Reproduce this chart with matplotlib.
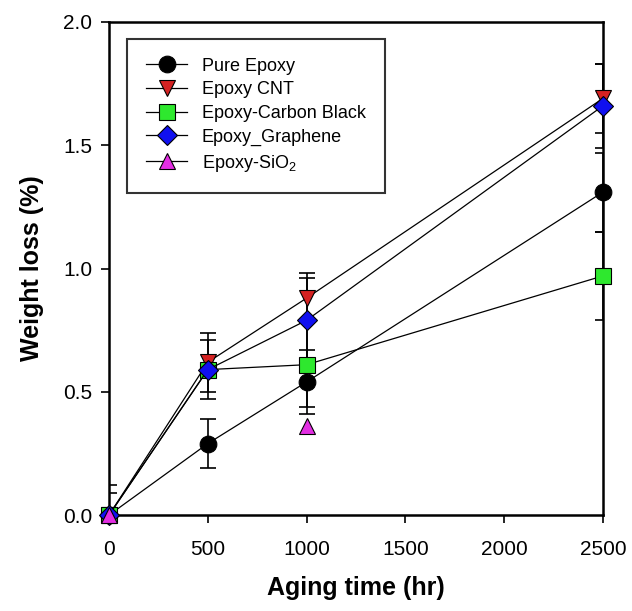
import matplotlib
matplotlib.use("Agg")
import matplotlib.pyplot as plt
from matplotlib.lines import Line2D

plt.rcParams['font.family'] = ['Liberation Sans', 'DejaVu Sans']

# Data
time_main = [0, 500, 1000, 2500]
pure_epoxy = [0.0, 0.29, 0.54, 1.31]
pure_epoxy_err = [0.12, 0.10, 0.13, 0.16]
epoxy_cnt = [0.0, 0.62, 0.88, 1.69]
epoxy_cnt_err = [0.09, 0.12, 0.10, 0.14]
epoxy_cb = [0.0, 0.59, 0.61, 0.97]
epoxy_cb_err = [0.0, 0.0, 0.17, 0.18]
epoxy_gr = [0.0, 0.59, 0.79, 1.66]
epoxy_gr_err = [0.0, 0.12, 0.17, 0.17]
time_sio2 = [0, 1000]
epoxy_sio2 = [0.0, 0.36]

labels = ["Pure Epoxy", "Epoxy CNT", "Epoxy-Carbon Black", "Epoxy_Graphene",
          "Epoxy-SiO$_\\mathregular{2}$"]
xticks = [0, 500, 1000, 1500, 2000, 2500]
yticks = [0.0, 0.5, 1.0, 1.5, 2.0]

colors = ['black', '#d42222', '#2ee82e', '#1010f0', '#e22ee2']
markers = ['o', 'v', 's', 'D', '^']
sizes = [12, 12, 11, 10, 12]

fig = plt.figure(figsize=(6.32, 6.11), dpi=100)
ax = fig.add_axes([0.1725, 0.157, 0.7815, 0.807])

series = [(time_main, pure_epoxy, pure_epoxy_err),
          (time_main, epoxy_cnt, epoxy_cnt_err),
          (time_main, epoxy_cb, epoxy_cb_err),
          (time_main, epoxy_gr, epoxy_gr_err)]

for i, (x, y, e) in enumerate(series):
    ax.errorbar(x, y, yerr=e, fmt='none', ecolor='black', elinewidth=1.2,
                capsize=5.5, capthick=1.2, zorder=2)
    ln, = ax.plot(x, y, color='black', lw=0.9, marker=markers[i], mfc=colors[i],
                  mec='black', mew=0.8, ms=sizes[i], zorder=3 + i)
    ln.set_clip_on(False)
ln, = ax.plot(time_sio2, epoxy_sio2, ls='none', marker=markers[4], mfc=colors[4],
              mec='black', mew=0.8, ms=sizes[4], zorder=8)
ln.set_clip_on(False)

ax.set_xlim(0, 2500)
ax.set_ylim(0, 2.0)
ax.set_xticks(xticks)
ax.set_yticks(yticks)
ax.set_yticklabels([f"{v:.1f}" for v in yticks])
ax.tick_params(axis='both', direction='out', length=6, width=1.2, labelsize=15,
               top=False, right=False)
ax.tick_params(axis='x', pad=12)
ax.tick_params(axis='y', pad=6)
for s in ax.spines.values():
    s.set_linewidth(1.8)

ax.set_xlabel("Aging time (hr)", fontsize=18, fontweight='bold', labelpad=12)
ax.set_ylabel("Weight loss (%)", fontsize=18, fontweight='bold', labelpad=14)

handles = [Line2D([], [], color='black', lw=0.9, marker=markers[i], mfc=colors[i],
                  mec='black', mew=0.8, ms=sizes[i]) for i in range(5)]
leg = ax.legend(handles, labels, loc='upper left', bbox_to_anchor=(0.036, 0.966),
                fontsize=13, frameon=True, fancybox=False, edgecolor='black',
                handlelength=2.3, labelspacing=0.37, borderpad=1.05,
                handletextpad=0.8, borderaxespad=0)
leg.get_frame().set_linewidth(1.5)

fig.savefig("out.png", dpi=100)
